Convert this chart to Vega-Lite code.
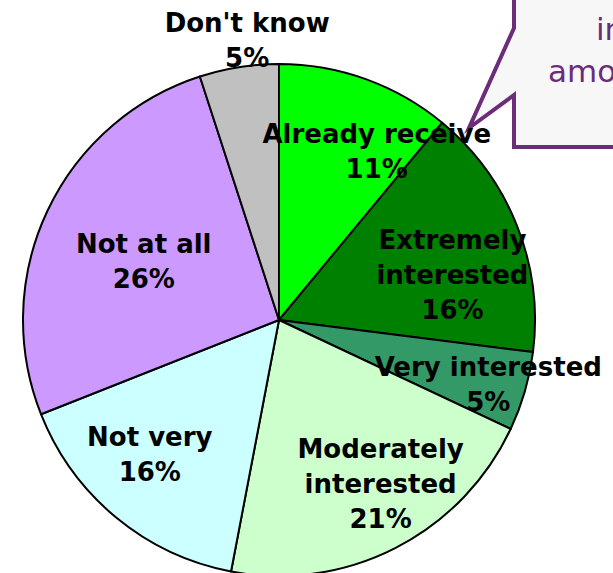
{
  "$schema": "https://vega.github.io/schema/vega-lite/v6.json",
  "autosize": "none",
  "width": 558,
  "height": 640,
  "padding": {"left": 0, "top": 0, "right": 55, "bottom": 0},
  "background": "white",
  "config": {"view": {"stroke": null}},
  "datasets": {
    "pie": [
      {"category": "Already receive", "label": "Already receive", "value": 11, "order": 1},
      {"category": "Extremely interested", "label": "Extremely\ninterested", "value": 16, "order": 2},
      {"category": "Very interested", "label": "Very interested", "value": 5, "order": 3},
      {"category": "Moderately interested", "label": "Moderately\ninterested", "value": 21, "order": 4},
      {"category": "Not very", "label": "Not very", "value": 16, "order": 5},
      {"category": "Not at all", "label": "Not at all", "value": 26, "order": 6},
      {"category": "Don't know", "label": "Don't know", "value": 5, "order": 7}
    ]
  },
  "layer": [
    {
      "data": {"name": "pie"},
      "mark": {"type": "arc", "radius": 256, "stroke": "black", "strokeWidth": 2, "strokeJoin": "round"},
      "encoding": {
        "theta": {"field": "value", "type": "quantitative", "stack": true, "scale": {"domain": [0, 100]}},
        "order": {"field": "order", "type": "quantitative"},
        "color": {
          "field": "category",
          "type": "nominal",
          "legend": null,
          "scale": {
            "domain": ["Already receive", "Extremely interested", "Very interested", "Moderately interested", "Not very", "Not at all", "Don't know"],
            "range": ["#00FF00", "#008000", "#339966", "#CCFFCC", "#CCFFFF", "#CC99FF", "#C0C0C0"]
          }
        }
      }
    },
    {
      "data": {"values": [{"note": "callout"}]},
      "mark": {
        "type": "point",
        "shape": "M514,-20 L514,28 L469,128 L514,95 L514,147 L660,147 L660,-20 Z",
        "size": 4,
        "filled": true,
        "fill": "#F7F7F7",
        "stroke": "#6B2C7A",
        "strokeWidth": 4,
        "strokeJoin": "miter",
        "opacity": 1
      },
      "encoding": {"x": {"value": 0}, "y": {"value": 0}}
    },
    {
      "data": {"values": [{"line": "in", "n": 1}, {"line": "amo", "n": 2}]},
      "transform": [{"filter": "datum.n == 1"}],
      "mark": {"type": "text", "font": "DejaVu Sans", "fontSize": 31, "color": "#6B2C7A", "align": "left", "baseline": "alphabetic"},
      "encoding": {"x": {"value": 596}, "y": {"value": 40}, "text": {"field": "line"}}
    },
    {
      "data": {"values": [{"line": "in", "n": 1}, {"line": "amo", "n": 2}]},
      "transform": [{"filter": "datum.n == 2"}],
      "mark": {"type": "text", "font": "DejaVu Sans", "fontSize": 31, "color": "#6B2C7A", "align": "left", "baseline": "alphabetic"},
      "encoding": {"x": {"value": 548}, "y": {"value": 82}, "text": {"field": "line"}}
    },
    {
      "data": {"name": "pie"},
      "transform": [
        {"stack": "value", "groupby": [], "sort": [{"field": "order", "order": "ascending"}], "as": ["v0", "v1"]},
        {"calculate": "(datum.v0 + datum.v1) / 2", "as": "mid"},
        {"calculate": "datum.label + '\\n' + datum.value + '%'", "as": "txt"}
      ],
      "encoding": {
        "theta": {"field": "mid", "type": "quantitative", "stack": null, "scale": {"domain": [0, 100]}},
        "text": {"field": "txt"}
      },
      "layer": [
        {"transform": [{"filter": "datum.order == 1"}], "mark": {"type": "text", "radius": 194, "dx": 32, "dy": -2.5, "font": "DejaVu Sans", "fontWeight": "bold", "fontSize": 26, "lineHeight": 35, "lineBreak": "\n", "align": "center", "baseline": "middle", "color": "black"}},
        {"transform": [{"filter": "datum.order == 2"}], "mark": {"type": "text", "radius": 179, "dx": 7, "dy": -13, "font": "DejaVu Sans", "fontWeight": "bold", "fontSize": 26, "lineHeight": 35, "lineBreak": "\n", "align": "center", "baseline": "middle", "color": "black"}},
        {"transform": [{"filter": "datum.order == 3"}], "mark": {"type": "text", "radius": 220, "dx": -2, "dy": -13.5, "font": "DejaVu Sans", "fontWeight": "bold", "fontSize": 26, "lineHeight": 35, "lineBreak": "\n", "align": "center", "baseline": "middle", "color": "black"}},
        {"transform": [{"filter": "datum.order == 4"}], "mark": {"type": "text", "radius": 193, "dx": 14, "dy": -42, "font": "DejaVu Sans", "fontWeight": "bold", "fontSize": 26, "lineHeight": 35, "lineBreak": "\n", "align": "center", "baseline": "middle", "color": "black"}},
        {"transform": [{"filter": "datum.order == 5"}], "mark": {"type": "text", "radius": 187, "dx": -10, "dy": -26.5, "font": "DejaVu Sans", "fontWeight": "bold", "fontSize": 26, "lineHeight": 35, "lineBreak": "\n", "align": "center", "baseline": "middle", "color": "black"}},
        {"transform": [{"filter": "datum.order == 6"}], "mark": {"type": "text", "radius": 155, "dx": 5, "dy": -9.5, "font": "DejaVu Sans", "fontWeight": "bold", "fontSize": 26, "lineHeight": 35, "lineBreak": "\n", "align": "center", "baseline": "middle", "color": "black"}},
        {"transform": [{"filter": "datum.order == 7"}], "mark": {"type": "text", "radius": 280, "dx": 12, "dy": -19.5, "font": "DejaVu Sans", "fontWeight": "bold", "fontSize": 26, "lineHeight": 35, "lineBreak": "\n", "align": "center", "baseline": "middle", "color": "black"}}
      ]
    }
  ]
}
